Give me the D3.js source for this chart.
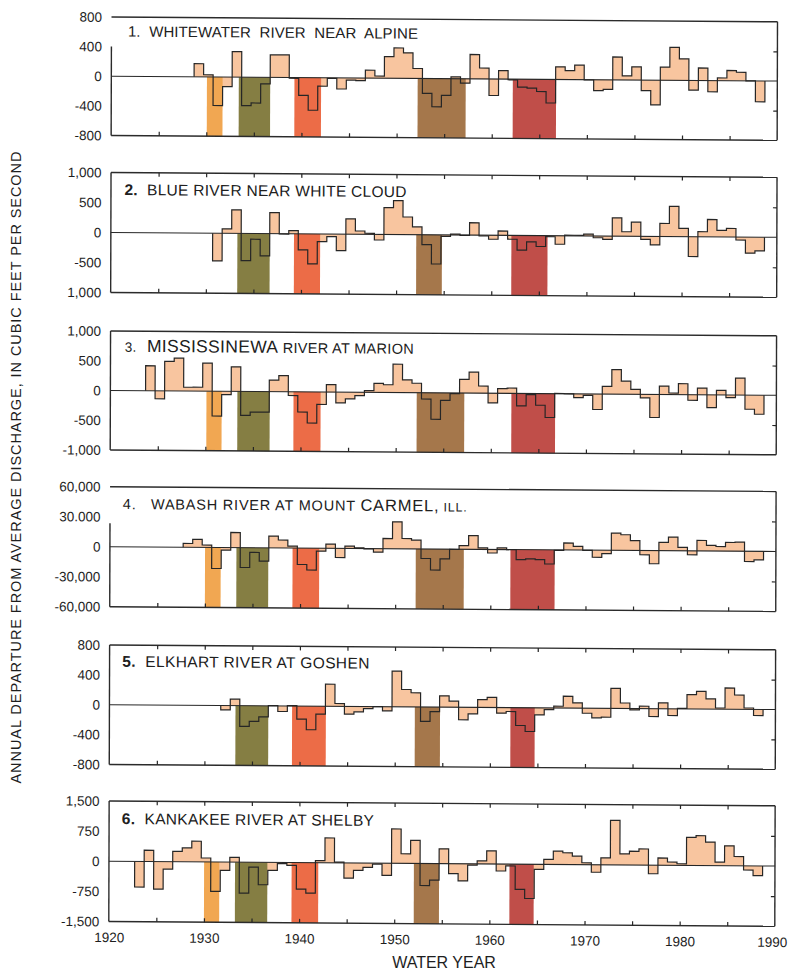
<!DOCTYPE html>
<html>
<head>
<meta charset="utf-8">
<script src="https://cdn.jsdelivr.net/npm/d3@7"></script>
<style>
  body { margin: 0; background: #fff; }
  svg { display: block; font-family: "Liberation Sans", Arial, Helvetica, sans-serif; }
  .ttl { white-space: pre; }
</style>
</head>
<body>
<div id="chart"></div>
<script>
// first water year of each record
const firstYears = [1929, 1931, 1924, 1928, 1932, 1923];

// annual departure from average discharge, cfs
const whitewater = [178, 29, -385, -128, 344, -383, -347, -88, 304, 305,
  -10, -240, -439, -114, -7, -149, -28, -35, 107, 29,
  292, 410, 345, 135, -200, -380, -225, 25, -58, 329,
  147, -222, 115, -9, -107, -120, -164, -318, 171, 120,
  195, -4, -147, -129, 309, 56, 178, -142, -333, 178,
  444, 290, -131, 169, -151, 36, 138, 115, 0, -282];
const blueRiver = [-460, 74, 392, -452, -95, -372, 351, -5, 54, -267,
  -499, -126, -42, -274, 255, 56, 18, -92, 448, 565,
  295, 130, -165, -485, -25, 15, -5, 206, -13, -66,
  72, -64, -245, -106, -181, -17, -141, 10, 10, 30,
  -28, -54, 305, 75, 235, -50, -141, 217, 504, 138,
  -330, 84, 289, 108, 142, -50, -268, -228];
const mississinewa = [421, -133, 496, 553, 65, 66, 472, -416, -54, 414,
  -402, -345, -344, 196, 270, -62, -339, -522, -209, 125,
  -180, -112, -55, 29, 152, 131, 477, 215, 160, -105,
  -444, -125, -10, 230, 353, 120, -162, 78, 90, -208,
  -18, -195, -400, 5, 0, -63, -23, -260, 130, 414,
  220, 83, -60, -387, 142, 26, 183, -94, 113, -214,
  76, -45, 284, -237, -320];
const wabash = [3800, 7900, 2350, -21000, -2500, 15100, -19800, -4700, -13300, 11800,
  7900, 1900, -16400, -21900, -2900, 4200, -9150, 2300, 700, -250,
  -3500, 10200, 27000, 10300, 8800, -9500, -21000, -9700, -300, 3700,
  13700, 1500, -3500, 1600, 0, -10000, -9200, -9800, -14100, -400,
  7000, 3700, -200, -7100, -3400, 17300, 15700, 9800, -4200, -13100,
  8300, 13700, 3400, -3900, 10500, 5600, 4600, 8700, 9100, -10200,
  -8500];
const elkhart = [-57, 87, -277, -209, -146, 5, -73, 6, -174, -315,
  -105, 296, 39, -102, -70, -26, 2, -55, 479, 233,
  190, -192, -60, 152, 82, -167, -87, 105, 137, -75,
  -52, -238, -317, -94, -22, 24, 158, 70, -67, -128,
  -119, 269, 74, -18, 32, -105, 78, -90, 8, 191,
  237, 136, 16, 284, 191, 19, -82];
const kankakee = [-637, 281, -684, -183, 261, 346, 514, 99, -732, -206,
  121, -770, -118, -557, -198, -29, -69, -660, -758, 52,
  620, 20, -377, -183, -107, -22, -303, 856, 240, 575,
  -548, -412, 370, -245, -426, -30, 77, 327, -172, -45,
  -627, -851, -125, 126, 335, 294, 212, 47, -186, 173,
  1108, 276, 343, 402, -213, 180, 81, 40, 700, 742,
  585, 87, 496, 230, -103, -243];

const series = [whitewater, blueRiver, mississinewa, wabash, elkhart, kankakee];
const limits = [800, 1000, 1000, 60000, 800, 1500];

const tickText = [
  ["800", "400", "0", "-400", "-800"],
  ["1,000", "500", "0", "-500", "1,000"],
  ["1,000", "500", "0", "-500", "-1,000"],
  ["60,000", "30.000", "0", "-30,000", "-60,000"],
  ["800", "400", "0", "-400", "-800"],
  ["1,500", "750", "0", "-750", "-1,500"]
];

const titleText = [
  ["1.", "  WHITEWATER  RIVER  NEAR  ALPINE"],
  ["2.", "  BLUE RIVER NEAR WHITE CLOUD"],
  ["3.", "  MISSISSINEWA", " RIVER AT MARION"],
  ["4.", "   WABASH RIVER AT MOUNT ", "CARMEL,", " ILL."],
  ["5.", "  ELKHART RIVER AT GOSHEN"],
  ["6.", "  KANKAKEE RIVER AT SHELBY"]
];

// drought periods: [start, end, kind]
const droughts = [
  [[1930.05, 1931.7, 0], [1933.4, 1936.7, 1], [1939.25, 1942.05, 2], [1952.2, 1957.25, 3], [1962.2, 1966.75, 4]],
  [[1933.3, 1936.7, 1], [1939.25, 1942.0, 2], [1952.1, 1954.8, 3], [1962.1, 1965.9, 4]],
  [[1930.1, 1931.7, 0], [1933.35, 1936.75, 1], [1939.25, 1942.1, 2], [1952.2, 1957.2, 3], [1962.15, 1966.75, 4]],
  [[1930.0, 1931.65, 0], [1933.3, 1936.65, 1], [1939.2, 1942.0, 2], [1952.15, 1957.2, 3], [1962.1, 1966.75, 4]],
  [[1933.25, 1936.7, 1], [1939.2, 1942.75, 2], [1952.1, 1954.75, 3], [1962.15, 1964.7, 4]],
  [[1930.0, 1931.6, 0], [1933.25, 1936.65, 1], [1939.2, 1942.0, 2], [1952.05, 1954.7, 3], [1962.1, 1964.65, 4]]
];
const decades = [1920, 1930, 1940, 1950, 1960, 1970, 1980, 1990];

// ---- layout ----
const width = 788, height = 974;
const panelTop = [17, 172.5, 331, 486.7, 645, 801];
const panelBottom = [135.5, 292.5, 450, 606.7, 764.5, 921.5];
const leftAxisTop = [46.5, 172.5, 331, 523.3, 645, 801];
const topTicks = [false, true, false, false, true, true];
const droughtColors = ["#f1a752", "#857e43", "#ec6c47", "#a5774b", "#c04e49"];
const peach = "#f8c59f";
const ink = "#262626";
const titleLayout = [
  { x: 128, y: 36.5, len: 290, seg: [[15, 400], [15, 400]] },
  { x: 125, y: 195, len: 282, seg: [[15.5, 700], [15.5, 400]] },
  { x: 125.7, y: 351.7, len: 289, seg: [[13.5, 400], [17.5, 500], [14.5, 400]] },
  { x: 124.3, y: 509, len: 344, seg: [[14.5, 400], [14.5, 400], [16.5, 400], [12.5, 400]] },
  { x: 124.3, y: 666.7, len: 247, seg: [[15.5, 700], [15.5, 400]] },
  { x: 124.3, y: 824, len: 252, seg: [[15.5, 700], [15.5, 400]] }
];

const svg = d3.select("#chart").append("svg")
  .attr("width", width)
  .attr("height", height);

// the printed page is slightly skewed; follow it
const g = svg.append("g")
  .attr("transform", "translate(111,17) matrix(1,0.0072,-0.003,1,0,0) translate(-111,-17)");

const x = d3.scaleLinear().domain([1920, 1990]).range([111.5, 777.5]);
const fives = d3.range(1925, 1990, 5);

series.forEach((vals, p) => {
  const y = d3.scaleLinear().domain([-limits[p], limits[p]]).range([panelBottom[p], panelTop[p]]);
  const start = firstYears[p] - 0.3; // water year runs Oct-Sep
  const n = vals.length;
  const pts = vals.map((v, i) => ({ t: start + i, v: v }));
  const areaPts = pts.concat([{ t: start + n, v: vals[n - 1] }]);
  const linePts = [{ t: start, v: 0 }].concat(pts, [{ t: start + n, v: 0 }]);
  const pg = g.append("g");

  pg.append("path")
    .datum(areaPts)
    .attr("fill", peach)
    .attr("d", d3.area().curve(d3.curveStepAfter)
      .x(d => x(d.t)).y0(y(0)).y1(d => y(d.v)));

  pg.selectAll(".drought")
    .data(droughts[p])
    .join("rect")
    .attr("class", "drought")
    .attr("x", d => x(d[0]))
    .attr("width", d => x(d[1]) - x(d[0]))
    .attr("y", y(0))
    .attr("height", y(-limits[p]) - y(0))
    .attr("fill", d => droughtColors[d[2]]);

  pg.append("path")
    .datum(linePts)
    .attr("fill", "none")
    .attr("stroke", ink)
    .attr("stroke-width", 1.2)
    .attr("d", d3.line().curve(d3.curveStepAfter).x(d => x(d.t)).y(d => y(d.v)));

  // zero line
  pg.append("line")
    .attr("x1", x(1920)).attr("x2", x(1990))
    .attr("y1", y(0)).attr("y2", y(0))
    .attr("stroke", ink).attr("stroke-width", 1.1);

  // frame
  const frame = pg.append("g").attr("stroke", "#2b2b2b").attr("stroke-width", 1.4).attr("fill", "none");
  frame.append("line").attr("x1", x(1920)).attr("x2", x(1990)).attr("y1", y(limits[p])).attr("y2", y(limits[p]));
  frame.append("line").attr("x1", x(1920)).attr("x2", x(1990)).attr("y1", y(-limits[p])).attr("y2", y(-limits[p]));
  frame.append("line").attr("x1", x(1920)).attr("x2", x(1920)).attr("y1", leftAxisTop[p]).attr("y2", y(-limits[p]));
  frame.append("line").attr("x1", x(1990)).attr("x2", x(1990)).attr("y1", y(limits[p])).attr("y2", y(-limits[p]));

  // inward ticks
  const bt = pg.append("g").attr("transform", `translate(0,${y(-limits[p])})`)
    .call(d3.axisTop(x).tickValues(fives).tickSize(4).tickFormat(""));
  bt.select(".domain").remove();
  if (topTicks[p]) {
    const tt = pg.append("g").attr("transform", `translate(0,${y(limits[p])})`)
      .call(d3.axisBottom(x).tickValues(fives).tickSize(4).tickFormat(""));
    tt.select(".domain").remove();
  }
  const rt = pg.append("g").attr("transform", `translate(${x(1990)},0)`)
    .call(d3.axisLeft(y).tickValues([limits[p] / 2, -limits[p] / 2]).tickSize(4).tickFormat(""));
  rt.select(".domain").remove();
  pg.selectAll(".tick line").attr("stroke", ink).attr("stroke-width", 1.2);

  // value labels
  const tv = [limits[p], limits[p] / 2, 0, -limits[p] / 2, -limits[p]];
  const la = pg.append("g").attr("transform", `translate(${x(1920)},0)`)
    .call(d3.axisLeft(y).tickValues(tv).tickSize(0).tickPadding(9.5)
      .tickFormat((d, i) => tickText[p][i]));
  la.select(".domain").remove();
  la.selectAll("text")
    .attr("font-family", "'Liberation Sans', Arial, sans-serif")
    .attr("font-size", 13.5)
    .attr("fill", "#1e1e1e");

  // panel title
  const tl = titleLayout[p];
  const tt = pg.append("text")
    .attr("class", "ttl")
    .attr("x", tl.x).attr("y", tl.y)
    .attr("fill", "#202020")
    .attr("textLength", tl.len)
    .attr("lengthAdjust", "spacing");
  titleText[p].forEach((s, k) => {
    tt.append("tspan")
      .attr("font-size", tl.seg[k][0])
      .attr("font-weight", tl.seg[k][1])
      .text(s);
  });

  if (p === series.length - 1) {
    const xa = pg.append("g").attr("transform", `translate(0,${y(-limits[p])})`)
      .call(d3.axisBottom(x).tickValues(decades).tickSize(0).tickPadding(11).tickFormat(d3.format("d")));
    xa.select(".domain").remove();
    xa.selectAll("text")
      .attr("font-family", "'Liberation Sans', Arial, sans-serif")
      .attr("font-size", 13.5)
      .attr("fill", "#1e1e1e")
      .attr("dx", d => d === 1990 ? -3 : 0);
  }
});

svg.append("text")
  .attr("x", 444).attr("y", 968)
  .attr("text-anchor", "middle")
  .attr("font-size", 16)
  .attr("fill", "#1e1e1e")
  .text("WATER YEAR");

svg.append("text")
  .attr("transform", "translate(21,467.5) rotate(-90)")
  .attr("text-anchor", "middle")
  .attr("font-size", 14.5)
  .attr("fill", "#1e1e1e")
  .attr("textLength", 632)
  .attr("lengthAdjust", "spacing")
  .text("ANNUAL DEPARTURE FROM AVERAGE DISCHARGE, IN CUBIC FEET PER SECOND");
</script>
</body>
</html>
